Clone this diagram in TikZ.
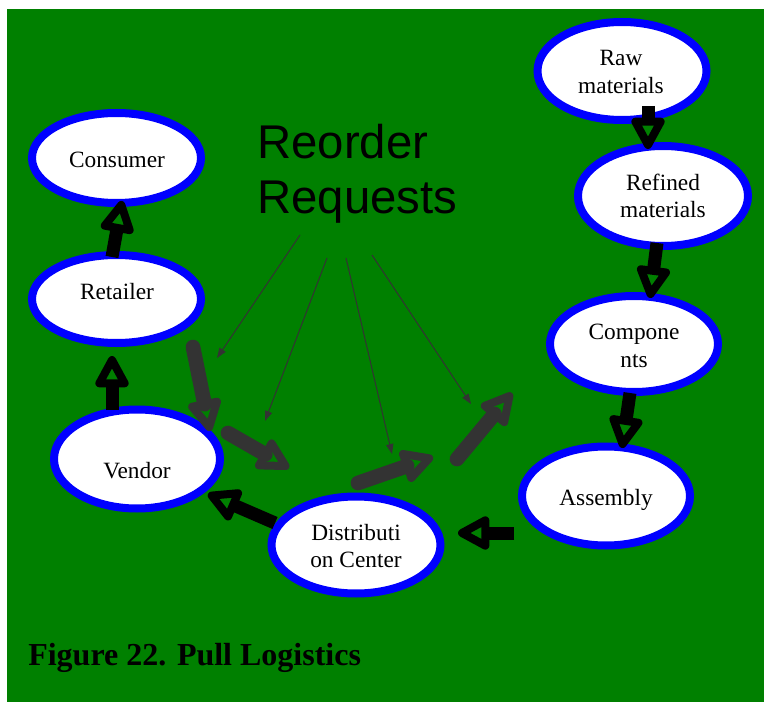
\documentclass[tikz,border=0pt]{standalone}
\usepackage{fontspec}
\setmainfont{Liberation Serif}
\newfontfamily\headfont{Liberation Sans}
\usetikzlibrary{arrows.meta,shapes.geometric,calc}

\definecolor{bggreen}{HTML}{008000}
\definecolor{ringblue}{HTML}{0000FF}
\definecolor{flowgray}{HTML}{333333}

% thick shaft ending in a hollow triangular head: #1 style, #2 start, #3 outer tip
\newcommand\blockarrow[3]{%
  \coordinate (ba-t) at ($(#3)!3pt!(#2)$);
  \coordinate (ba-b) at ($(ba-t)!17.5pt!(#2)$);
  \draw[#1] (#2) -- (ba-b);
  \draw[#1, line width=6pt, line join=round, line cap=round]
    (ba-t) -- ($(ba-b)!9.5pt!90:(ba-t)$) -- ($(ba-b)!9.5pt!-90:(ba-t)$) -- cycle;
}

\begin{document}
\begin{tikzpicture}[x=0.75pt,y=-0.75pt,
  oval/.style 2 args={ellipse, draw=ringblue, fill=white, line width=6pt,
    inner sep=0pt, minimum width=#1*0.75pt, minimum height=#2*0.75pt},
  nodetext/.style={font=\fontsize{17.5}{20.5}\selectfont, align=center, inner sep=0pt},
  pullarrow/.style={draw=black, line width=9.75pt},
  flowarrow/.style={draw=flowgray, line width=11pt},
  request/.style={draw=flowgray, line width=0.75pt,
    -{Triangle[length=7.5pt, width=5.5pt]}}
]
% page and green panel
\fill[white] (0,0) rectangle (764,702);
\fill[bggreen] (7,9) rectangle (764,702);
\useasboundingbox (0,0) rectangle (764,702);

% supply chain stages
\node[oval={169}{98}]  (raw)          at (622,71)  {};
\node[oval={169}{90}]  (consumer)     at (116.5,158) {};
\node[oval={170}{100}] (refined)      at (663,196) {};
\node[oval={169}{88}]  (retailer)     at (116.5,299) {};
\node[oval={168}{96}]  (components)   at (634,344) {};
\node[oval={166}{99}]  (vendor)       at (137,459) {};
\node[oval={168}{99}]  (assembly)     at (606,496) {};
\node[oval={169}{97}]  (distribution) at (356,545) {};

\node[nodetext] (raw-t)          at (621,72)  {Raw\\materials};
\node[nodetext] (consumer-t)     at (117,160) {Consumer};
\node[nodetext] (refined-t)      at (663,196) {Refined\\materials};
\node[nodetext] (retailer-t)     at (117,292) {Retailer};
\node[nodetext] (components-t)   at (634,346) {Compone\\nts};
\node[nodetext] (vendor-t)       at (137,471) {Vendor};
\node[nodetext] (assembly-t)     at (606,500) {Assembly};
\node[nodetext] (distribution-t) at (356,546) {Distributi\\on Center};

% heading for the request arrows
\node[anchor=west, align=left, inner sep=0pt,
      font=\headfont\fontsize{35.5}{41.5}\selectfont] (reorder) at (257,174) {Reorder\\Requests};

% caption
\node[anchor=base west, inner sep=0pt,
      font=\bfseries\fontsize{24}{28}\selectfont] (caption) at (28,665) {Figure 22. Pull Logistics};

% end points of the block arrows
\coordinate (rawOut)     at (648,106);  \coordinate (refinedIn)    at (648,149);
\coordinate (refinedOut) at (657,243);  \coordinate (componentsIn) at (650,298);
\coordinate (compOut)    at (630,393);  \coordinate (assemblyIn)   at (622,448);
\coordinate (assemblyOut) at (514,533); \coordinate (distIn)       at (458,533);
\coordinate (distOut)    at (275,523);  \coordinate (vendorIn)     at (208,494);
\coordinate (vendorOut)  at (112,410);  \coordinate (retailerIn)   at (112,356);
\coordinate (retailerOut) at (112,257); \coordinate (consumerIn)   at (122,201);

% goods flow (black)
\blockarrow{pullarrow}{rawOut}{refinedIn}
\blockarrow{pullarrow}{refinedOut}{componentsIn}
\blockarrow{pullarrow}{compOut}{assemblyIn}
\blockarrow{pullarrow}{assemblyOut}{distIn}
\blockarrow{pullarrow}{distOut}{vendorIn}
\blockarrow{pullarrow}{vendorOut}{retailerIn}
\blockarrow{pullarrow}{retailerOut}{consumerIn}

% reorder flow (gray)
\coordinate (r1a) at (193,347); \coordinate (r1b) at (210,431);
\coordinate (r2a) at (228,433); \coordinate (r2b) at (289,468);
\coordinate (r3a) at (358,483); \coordinate (r3b) at (433,457);
\coordinate (r4a) at (457,459); \coordinate (r4b) at (512,393);
\blockarrow{flowarrow, line cap=round}{r1a}{r1b}
\blockarrow{flowarrow, line cap=round}{r2a}{r2b}
\blockarrow{flowarrow, line cap=round}{r3a}{r3b}
\blockarrow{flowarrow, line cap=round}{r4a}{r4b}

% thin pointers from the heading
\coordinate (p1a) at (300,235); \coordinate (p1b) at (217,358);
\coordinate (p2a) at (327,258); \coordinate (p2b) at (265,421);
\coordinate (p3a) at (346,258); \coordinate (p3b) at (392,454);
\coordinate (p4a) at (372,255); \coordinate (p4b) at (471,404);
\draw[request] (p1a) -- (p1b);
\draw[request] (p2a) -- (p2b);
\draw[request] (p3a) -- (p3b);
\draw[request] (p4a) -- (p4b);
\end{tikzpicture}
\end{document}
